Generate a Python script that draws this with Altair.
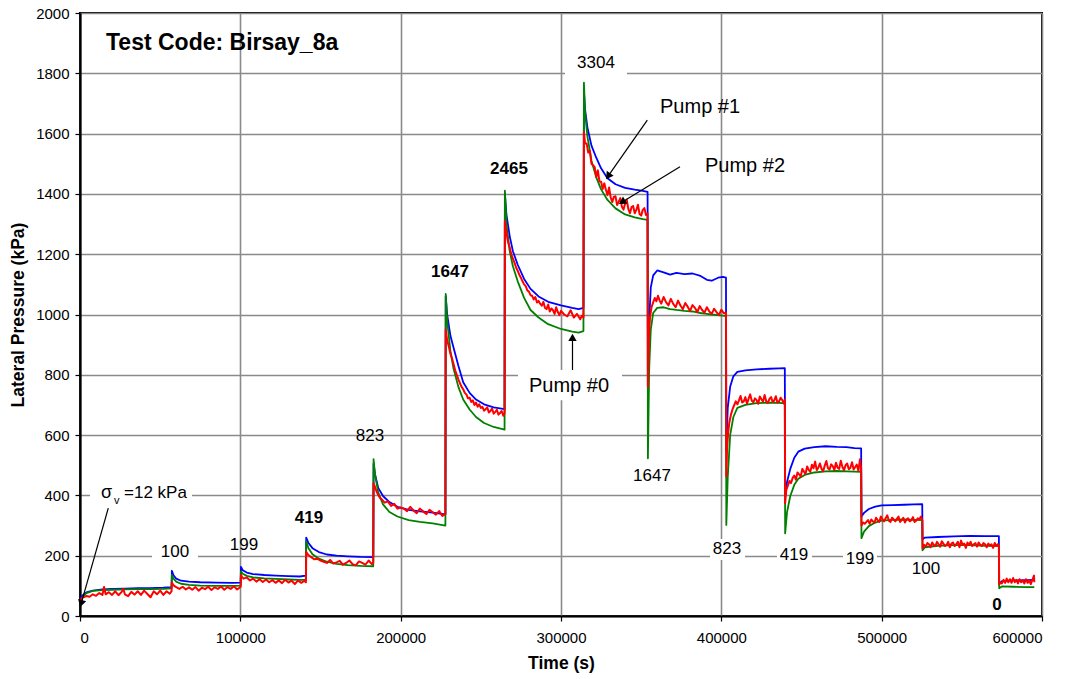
import altair as alt
import pandas as pd

# ---------------- data ----------------
# sample times (s) shared by Pump #1 (blue) and Pump #0 (green), one list per load stage
bg_time = [
    [0, 1500, 4000, 8000, 14000, 20000, 28000, 36000, 44000, 52000, 57100],
    [57300, 58300, 60000, 63000, 68000, 75000, 85000, 95000, 100200],
    [100400, 101500, 104000, 108000, 115000, 122000, 130000, 137000, 140900],
    [141100, 142500, 145000, 149000, 154000, 160000, 167000, 175000, 182900],
    [183100, 184000, 186000, 189000, 193000, 198000, 205000, 212000, 220000, 227900],
    [228100, 229000, 231000, 233000, 236000, 239000, 243000, 247000, 252000, 258000, 264800],
    [265000, 266000, 268000, 270000, 273000, 277000, 281000, 286000, 292000, 300000, 307000, 311000, 314000],
    [314300, 315000, 316500, 319000, 322000, 325000, 329000, 334000, 340000, 346000, 351000, 354000],
    [354200, 355000, 356000, 357500, 360000, 364000, 368000, 372000, 377000, 382000, 387000, 391000, 394000, 398000, 401000, 402900],
    [403100, 404000, 405500, 407500, 410000, 415000, 422000, 430000, 436000, 439600],
    [439800, 441000, 443000, 445500, 448000, 452000, 458000, 465000, 472000, 478000, 483000, 487200],
    [487400, 489000, 492000, 496000, 500000, 507000, 514000, 520000, 525300],
    [525500, 527000, 535000, 545000, 555000, 565000, 573100],
    [573300, 575000, 582000, 590000, 595200],
]
blue_val = [
    [55, 68, 78, 84, 88, 90, 91, 92, 92, 94, 96],
    [150, 135, 124, 117, 114, 112, 111, 110, 111],
    [163, 152, 144, 139, 136, 134, 132, 131, 134],
    [260, 242, 225, 212, 204, 200, 198, 196, 195],
    [505, 470, 425, 398, 378, 362, 352, 347, 343, 337],
    [1060, 1000, 930, 890, 830, 775, 740, 718, 702, 692, 686],
    [1400, 1330, 1260, 1210, 1165, 1118, 1085, 1060, 1042, 1030, 1022, 1018, 1022],
    [1740, 1680, 1620, 1560, 1520, 1485, 1452, 1432, 1420, 1414, 1410, 1407],
    [760, 980, 1090, 1130, 1146, 1140, 1132, 1138, 1134, 1136, 1128, 1115, 1112, 1122, 1125, 1122],
    [550, 690, 760, 795, 810, 815, 818, 820, 821, 822],
    [395, 445, 488, 525, 545, 555, 560, 563, 561, 560, 557, 556],
    [330, 342, 355, 363, 367, 368, 369, 370, 371],
    [255, 260, 262, 264, 266, 265, 265],
    [105, 116, 118, 119, 120],
]
green_val = [
    [45, 62, 76, 83, 86, 87, 88, 89, 89, 90, 92],
    [136, 124, 114, 107, 103, 101, 100, 100, 101],
    [148, 140, 133, 128, 125, 123, 121, 120, 120],
    [248, 225, 205, 190, 180, 173, 169, 166, 165],
    [520, 470, 410, 370, 345, 330, 318, 312, 307, 300],
    [1068, 980, 880, 820, 760, 718, 685, 660, 640, 627, 618],
    [1411, 1300, 1210, 1160, 1110, 1055, 1015, 990, 968, 952, 943, 940, 945],
    [1769, 1670, 1590, 1510, 1455, 1415, 1380, 1352, 1332, 1322, 1316, 1314],
    [523, 820, 950, 1005, 1022, 1024, 1018, 1015, 1012, 1010, 1005, 1002, 1000, 998, 996, 995],
    [302, 460, 600, 660, 690, 700, 706, 708, 707, 705],
    [274, 345, 398, 435, 455, 468, 476, 480, 481, 480, 479, 478],
    [258, 280, 298, 310, 316, 319, 320, 319, 318],
    [218, 228, 233, 235, 235, 233, 232],
    [92, 98, 97, 96, 96],
]

# Pump #2 (red, noisy trace)
red_time = [
    [0, 1000, 2000, 4000, 6000, 8000, 10000, 12000, 14000, 15000, 16000, 18000, 20000, 22000, 24000, 26000, 27000,
     28000, 30000, 32000, 34000, 36000, 38000, 40000, 42000, 44000, 46000, 48000, 50000, 52000, 54000, 56000, 57100],
    [57300, 58000, 59000, 60000, 62000, 64000, 66000, 68000, 70000, 72000, 74000, 76000, 78000, 80000, 82000, 84000,
     86000, 88000, 90000, 92000, 94000, 96000, 98000, 100200],
    [100400, 101000, 102000, 104000, 106000, 108000, 110000, 112000, 114000, 116000, 118000, 120000, 122000, 124000,
     126000, 128000, 130000, 132000, 134000, 136000, 138000, 140000, 140900],
    [141100, 142000, 143000, 144000, 146000, 148000, 150000, 152000, 154000, 156000, 158000, 160000, 162000, 164000,
     166000, 168000, 170000, 172000, 174000, 176000, 178000, 180000, 182000, 182900],
    [183100, 184000, 185000, 186000, 187000, 188000, 190000, 192000, 194000, 196000, 198000, 200000, 202000, 204000,
     206000, 208000, 210000, 212000, 214000, 216000, 218000, 220000, 222000, 224000, 226000, 227900],
    [228100, 229000, 230000, 231000, 232000, 233000, 234000, 235000, 236000, 237000, 238000, 239000, 240000, 241000,
     242000, 243000, 244000, 245000, 246000, 247000, 248000, 249000, 250000, 251000, 252000, 253000, 254000, 255000,
     256000, 257000, 258000, 259000, 260000, 261000, 262000, 263000, 264000, 264800],
    [265000, 266000, 267000, 268000, 269000, 270000, 271000, 272000, 273000, 274000, 275000, 276000, 277000, 278000,
     279000, 280000, 281000, 282000, 283000, 284000, 285000, 286000, 287000, 288000, 289000, 290000, 291000, 292000,
     293000, 294000, 295000, 296000, 297000, 298000, 299000, 300000, 302000, 304000, 306000, 308000, 310000, 312000,
     313000, 314000],
    [314300, 315000, 316000, 317000, 318000, 319000, 320000, 321000, 322000, 323000, 324000, 325000, 326000, 327000,
     328000, 329000, 330000, 331000, 332000, 333000, 334000, 335000, 336000, 337000, 338000, 339000, 340000, 341000,
     342000, 343000, 344000, 345000, 346000, 347000, 348000, 349000, 350000, 351000, 352000, 353000, 354000],
    [354200, 354800, 355500, 356500, 357500, 358500, 359500, 360500, 361500, 362500, 364000, 365500, 367000, 368500,
     370000, 371500, 373000, 374500, 376000, 377500, 379000, 380500, 382000, 383500, 385000, 386500, 388000, 389500,
     391000, 392500, 394000, 395500, 397000, 398500, 400000, 401500, 402900],
    [403100, 403600, 404300, 405000, 406000, 407000, 408000, 409000, 410000, 411000, 412000, 413000, 414000, 415000,
     416000, 417000, 418000, 419000, 420000, 421000, 422000, 423000, 424000, 425000, 426000, 427000, 428000, 429000,
     430000, 431000, 432000, 433000, 434000, 435000, 436000, 437000, 438000, 439000, 439600],
    [439800, 440500, 441500, 442500, 443500, 444500, 445500, 446500, 447500, 448500, 449500, 450500, 451500, 452500,
     453500, 454500, 455500, 456500, 457500, 458500, 459500, 460500, 461500, 462500, 463500, 464500, 465500, 466500,
     467500, 468500, 469500, 470500, 471500, 472500, 473500, 474500, 475500, 476500, 477500, 478500, 479500, 480500,
     481500, 482500, 483500, 484500, 485500, 486500, 487200],
    [487400, 488500, 489500, 490500, 491500, 492500, 493500, 494500, 495500, 496500, 497500, 498500, 499500, 500500,
     501500, 502500, 503500, 504500, 505500, 506500, 507500, 508500, 509500, 510500, 511500, 512500, 513500, 514500,
     515500, 516500, 517500, 518500, 519500, 520500, 521500, 522500, 523500, 524500, 525300],
    [525500, 526500, 527500, 528500, 529500, 530500, 531500, 532500, 533500, 534500, 535500, 536500, 537500, 538500,
     539500, 540500, 541500, 542500, 543500, 544500, 545500, 546500, 547500, 548500, 549500, 550500, 551500, 552500,
     553500, 554500, 555500, 556500, 557500, 558500, 559500, 560500, 561500, 562500, 563500, 564500, 565500, 566500,
     567500, 568500, 569500, 570500, 571500, 572500, 573100],
    [573300, 574000, 575000, 576000, 577000, 578000, 579000, 580000, 581000, 582000, 583000, 584000, 585000, 586000,
     587000, 588000, 589000, 590000, 591000, 592000, 593000, 594000, 595000, 595200],
]
red_val = [
    [40, 58, 62, 66, 64, 72, 67, 76, 70, 96, 72, 79, 70, 82, 69, 80, 90, 72, 66, 80, 71, 82, 70, 84, 73, 62, 82, 72,
     84, 70, 82, 74, 82],
    [112, 104, 99, 96, 90, 97, 88, 95, 87, 96, 84, 94, 89, 97, 86, 95, 90, 98, 87, 96, 90, 99, 88, 97],
    [136, 130, 124, 128, 118, 124, 114, 122, 113, 121, 112, 119, 110, 118, 109, 120, 111, 117, 106, 118, 110, 117, 112],
    [213, 205, 200, 196, 188, 190, 184, 180, 176, 186, 174, 178, 183, 170, 176, 184, 172, 168, 181, 176, 170, 184, 172, 178],
    [440, 428, 412, 402, 392, 388, 376, 380, 365, 372, 356, 360, 356, 348, 362, 350, 341, 356, 347, 338, 352, 344, 336,
     348, 332, 338],
    [950, 915, 895, 870, 855, 835, 815, 800, 785, 772, 760, 752, 740, 735, 722, 724, 710, 715, 700, 708, 694, 702, 690,
     694, 681, 686, 692, 675, 680, 688, 671, 677, 684, 668, 673, 680, 664, 672],
    [1310, 1270, 1240, 1222, 1200, 1185, 1172, 1156, 1145, 1132, 1122, 1110, 1100, 1094, 1080, 1076, 1064, 1062, 1050,
     1058, 1040, 1045, 1036, 1029, 1042, 1022, 1018, 1033, 1010, 1020, 1014, 1002, 1024, 1008, 998, 1012, 1000, 994,
     1014, 990, 1002, 984, 996, 990],
    [1605, 1567, 1567, 1537, 1543, 1500, 1495, 1489, 1456, 1478, 1441, 1440, 1416, 1435, 1414, 1396, 1421, 1388, 1373,
     1391, 1392, 1363, 1374, 1386, 1357, 1348, 1368, 1381, 1350, 1336, 1356, 1360, 1336, 1347, 1364, 1333, 1328, 1347,
     1353, 1330, 1335],
    [760, 920, 990, 1025, 1040, 1055, 1044, 1062, 1047, 1036, 1058, 1041, 1030, 1052, 1035, 1024, 1046, 1030, 1018, 1038,
     1026, 1012, 1031, 1022, 1008, 1028, 1015, 1006, 1024, 1010, 1002, 1019, 1008, 998, 1016, 1004, 1006],
    [462, 560, 610, 642, 668, 686, 699, 712, 702, 715, 730, 708, 712, 726, 704, 721, 735, 714, 709, 722, 716, 704, 728,
     719, 711, 733, 712, 706, 720, 726, 710, 715, 729, 707, 712, 724, 716, 705, 718],
    [374, 418, 432, 448, 441, 458, 466, 452, 476, 470, 462, 488, 479, 471, 496, 485, 478, 502, 490, 512, 484, 492, 506,
     488, 480, 499, 514, 490, 486, 503, 497, 484, 508, 492, 488, 515, 495, 483, 500, 506, 487, 492, 510, 486, 494, 502,
     481, 520, 490],
    [300, 310, 306, 312, 318, 306, 320, 314, 310, 326, 318, 312, 330, 320, 314, 324, 334, 316, 312, 326, 320, 314, 322,
     330, 312, 318, 326, 310, 320, 324, 314, 318, 328, 312, 316, 324, 320, 330, 318],
    [225, 236, 230, 242, 238, 228, 244, 236, 232, 246, 238, 230, 248, 240, 232, 236, 246, 228, 240, 244, 232, 238, 246,
     228, 250, 236, 240, 226, 244, 236, 246, 232, 238, 242, 230, 244, 236, 232, 242, 238, 228, 240, 234, 238, 226, 242,
     232, 238, 234],
    [105, 112, 108, 120, 110, 124, 112, 122, 110, 126, 112, 120, 108, 122, 112, 118, 108, 122, 110, 118, 106, 120, 134, 112],
]

x_ticks = [0, 100000, 200000, 300000, 400000, 500000, 600000]
y_ticks = [0, 200, 400, 600, 800, 1000, 1200, 1400, 1600, 1800, 2000]

# stress labels (kPa) next to each stage
stage_text = ["100", "199", "419", "823", "1647", "2465", "3304", "1647", "823", "419", "199", "100", "0"]
stage_x = [59250, 102290, 142830, 180870, 230770, 267570, 321830, 356760, 403530, 445320, 486490, 527650, 571930]
stage_y = [212, 235, 325, 597, 1141, 1483, 1834, 464, 222, 202, 189, 156, 36]
stage_bold = [False, False, True, False, True, True, False, False, False, False, False, False, True]

pump_text = ["Pump #1", "Pump #2", "Pump #0"]
pump_x = [361750, 389810, 280040]
pump_y = [1688, 1493, 763]

# arrows: start -> head
arrow_x = [17650, 353830, 374220, 307170]
arrow_y = [358, 1645, 1490, 816]
head_x = [936, 329810, 338730, 307170]
head_y = [45, 1462, 1375, 920]
head_angle = [196, 215, 239, 0]

# white label backgrounds (hide grid lines under labels)
box_x = [44900, 302500, 273180, 6240, 392930, 434720, 475880]
box_x2 = [73600, 341160, 338050, 69850, 414760, 456550, 497090]
box_y = [176, 1791, 716, 368, 186, 166, 153]
box_y2 = [249, 1871, 816, 444, 255, 236, 226]


def flat(nested):
    return [v for part in nested for v in part]


rows = []
for i, (t, b, g) in enumerate(zip(flat(bg_time), flat(blue_val), flat(green_val), strict=True)):
    rows.append({"t": t, "p": b, "s": "Pump #1", "i": i})
    rows.append({"t": t, "p": g, "s": "Pump #0", "i": i})
for i, (t, r) in enumerate(zip(flat(red_time), flat(red_val), strict=True)):
    rows.append({"t": t, "p": r, "s": "Pump #2", "i": i})
lines = pd.DataFrame(rows)

stages = pd.DataFrame({"x": stage_x, "y": stage_y, "text": stage_text, "bold": stage_bold})
pumps = pd.DataFrame({"x": pump_x, "y": pump_y, "text": pump_text})
arrows = pd.DataFrame({"x": arrow_x, "y": arrow_y, "x2": head_x, "y2": head_y, "a": head_angle})
boxes = pd.DataFrame({"x": box_x, "x2": box_x2, "y": box_y, "y2": box_y2})

FONT = "Liberation Sans"
xs = alt.Scale(domain=[0, 600000], nice=False, zero=False)
ys = alt.Scale(domain=[0, 2000], nice=False, zero=False)
xa = alt.Axis(values=x_ticks, format="d", title="Time (s)", labelPadding=9, titlePadding=9,
              labelFontSize=15, titleFontSize=17.5)
ya = alt.Axis(values=y_ticks, format="d", title="Lateral Pressure (kPa)", labelPadding=6, titlePadding=8,
              labelFontSize=15, titleFontSize=17.5)


def X(f):
    return alt.X(f, type="quantitative", scale=xs, axis=xa)


def Y(f):
    return alt.Y(f, type="quantitative", scale=ys, axis=ya)


base = alt.Chart(lines)

box_layer = alt.Chart(boxes).mark_rect(color="white").encode(x=X("x"), x2="x2", y=Y("y"), y2="y2")


def series(name, color, width):
    return base.transform_filter(alt.datum.s == name).mark_line(
        color=color, strokeWidth=width, strokeJoin="round"
    ).encode(x=X("t"), y=Y("p"), order="i:Q")


blue = series("Pump #1", "#0000ff", 1.8)
green = series("Pump #0", "#008000", 1.8)
red = series("Pump #2", "#ff0000", 2.0)

arrow_lines = alt.Chart(arrows).mark_rule(color="black", strokeWidth=1.2).encode(
    x=X("x"), y=Y("y"), x2="x2", y2="y2")
arrow_heads = alt.Chart(arrows).mark_point(shape="triangle", filled=True, color="black", size=70, opacity=1).encode(
    x=X("x2"), y=Y("y2"), angle=alt.Angle("a:Q", scale=None))

reg_labels = alt.Chart(stages).transform_filter("!datum.bold").mark_text(
    font=FONT, fontSize=17, color="black", align="center", baseline="middle").encode(
    x=X("x"), y=Y("y"), text="text:N")
bold_labels = alt.Chart(stages).transform_filter("datum.bold").mark_text(
    font=FONT, fontSize=17, fontWeight="bold", color="black", align="center", baseline="middle").encode(
    x=X("x"), y=Y("y"), text="text:N")
pump_labels = alt.Chart(pumps).mark_text(
    font=FONT, fontSize=20, color="black", align="left", baseline="middle").encode(
    x=X("x"), y=Y("y"), text="text:N")

title_txt = alt.Chart(pd.DataFrame({"x": [16220], "y": [1899], "text": ["Test Code: Birsay_8a"]})).mark_text(
    font=FONT, fontSize=23, fontWeight="bold", color="black", align="left", baseline="middle").encode(
    x=X("x"), y=Y("y"), text="text:N")

sig = alt.Chart(pd.DataFrame({"x": [13100], "y": [408], "text": ["σ"]})).mark_text(
    font=FONT, fontSize=18, color="black", align="left", baseline="middle").encode(x=X("x"), y=Y("y"), text="text:N")
sig_v = alt.Chart(pd.DataFrame({"x": [21200], "y": [382], "text": ["v"]})).mark_text(
    font=FONT, fontSize=11, color="black", align="left", baseline="middle").encode(x=X("x"), y=Y("y"), text="text:N")
sig_rest = alt.Chart(pd.DataFrame({"x": [27440], "y": [408], "text": ["=12 kPa"]})).mark_text(
    font=FONT, fontSize=17, color="black", align="left", baseline="middle").encode(x=X("x"), y=Y("y"), text="text:N")

chart = alt.layer(
    box_layer, blue, green, red, arrow_lines, arrow_heads,
    reg_labels, bold_labels, pump_labels, title_txt, sig, sig_v, sig_rest
).properties(
    width=962, height=603,
    autosize=alt.AutoSizeParams(type="none"),
    padding={"left": 80, "top": 13, "right": 30, "bottom": 59},
    background="white",
).configure_view(
    stroke="black", strokeWidth=2
).configure_axis(
    grid=True, gridColor="#8a8a8a", gridWidth=1.6,
    domainColor="black", domainWidth=2.2,
    tickColor="black", tickSize=5, tickWidth=1.2,
    labelFont=FONT, labelColor="black",
    titleFont=FONT, titleFontWeight="bold", titleColor="black",
)

chart.save("out.html", embed_options={"renderer": "svg", "actions": False})
